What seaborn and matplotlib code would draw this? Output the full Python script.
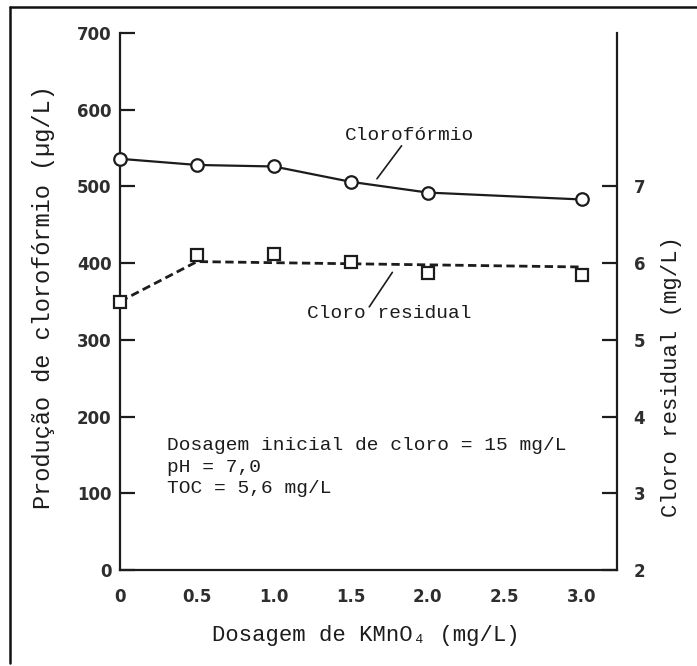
import matplotlib
matplotlib.use("Agg")
import matplotlib.pyplot as plt
from matplotlib.lines import Line2D
import seaborn as sns
import pandas as pd

# ---------------- data ----------------
kmno4_dose = [0.0, 0.5, 1.0, 1.5, 2.0, 3.0]
cloroformio = [536, 528, 526, 506, 492, 483]          # µg/L (left axis)
cloro_residual = [5.50, 6.10, 6.12, 6.01, 5.87, 5.85]  # mg/L (right axis)
trend_x = [0.0, 0.5, 3.0]
trend_residual = [5.50, 6.02, 5.95]                    # dashed trend (right axis)

x_ticks = [0.0, 0.5, 1.0, 1.5, 2.0, 2.5, 3.0]
x_tick_labels = ["0", "0.5", "1.0", "1.5", "2.0", "2.5", "3.0"]
left_ticks = [0, 100, 200, 300, 400, 500, 600, 700]
right_ticks = [2, 3, 4, 5, 6, 7]

xlabel = "Dosagem de KMnO\u2084 (mg/L)"
ylabel_left = "Produção de clorofórmio (µg/L)"
ylabel_right = "Cloro residual (mg/L)"
note_lines = ["Dosagem inicial de cloro = 15 mg/L", "pH = 7,0", "TOC = 5,6 mg/L"]

df_c = pd.DataFrame({"x": kmno4_dose, "y": cloroformio})
df_r = pd.DataFrame({"x": kmno4_dose, "y": cloro_residual})
df_t = pd.DataFrame({"x": trend_x, "y": trend_residual})

# ---------------- style ----------------
sns.set_style("white")
plt.rcParams["font.family"] = ["DejaVu Sans"]
mono = ["Liberation Mono", "DejaVu Sans Mono"]
ink = "#1c1c1c"
tick_color = "#2e2e2e"

W, H = 697, 666
fig = plt.figure(figsize=(W / 100, H / 100), dpi=100)
fig.patch.set_facecolor("white")

left_px, right_px, top_px, bottom_px = 120, 617, 33, 570
ax = fig.add_axes([left_px / W, (H - bottom_px) / H,
                   (right_px - left_px) / W, (bottom_px - top_px) / H])
ax2 = ax.twinx()

# Clorofórmio: solid line with open circles
sns.lineplot(data=df_c, x="x", y="y", ax=ax, color=ink, linewidth=1.6,
             marker="o", markersize=9, markerfacecolor="white",
             markeredgecolor=ink, markeredgewidth=1.6, clip_on=False, zorder=4)

# Cloro residual: dashed trend line + open squares
sns.lineplot(data=df_t, x="x", y="y", ax=ax2, color=ink, linewidth=2.0,
             linestyle=(0, (3.0, 1.6)), clip_on=False, zorder=3)
sns.lineplot(data=df_r, x="x", y="y", ax=ax2, color=ink, linestyle="",
             marker="s", markersize=8.5, markerfacecolor="white",
             markeredgecolor=ink, markeredgewidth=1.6, clip_on=False, zorder=4)

ax.set_xlim(0, 3.23)
ax.set_ylim(0, 700)
ax2.set_ylim(2, 9)

ax.set_xticks(x_ticks)
ax.set_xticklabels(x_tick_labels)
ax.set_yticks(left_ticks)
ax.set_yticklabels([str(v) for v in left_ticks])
ax2.set_yticks(right_ticks)
ax2.set_yticklabels([str(v) for v in right_ticks])

for a in (ax, ax2):
    for s in a.spines.values():
        s.set_visible(False)
    a.set_xlabel("")
    a.set_ylabel("")
ax.spines["left"].set_visible(True)
ax.spines["bottom"].set_visible(True)
ax2.spines["right"].set_visible(True)
for s in (ax.spines["left"], ax.spines["bottom"], ax2.spines["right"]):
    s.set_linewidth(1.6)
    s.set_color(ink)

ax.tick_params(axis="y", direction="in", length=11, width=1.6, color=ink,
               pad=6, labelsize=12, labelcolor=tick_color)
ax.tick_params(axis="x", direction="in", length=11, width=1.6, color=ink,
               pad=13, labelsize=12, labelcolor=tick_color)
ax2.tick_params(axis="y", direction="in", length=11, width=1.6, color=ink,
                pad=12, labelsize=12, labelcolor=tick_color)
for lab in ax.get_xticklabels() + ax.get_yticklabels() + ax2.get_yticklabels():
    lab.set_fontweight("bold")

# axis labels
fig.text(366 / W, 1 - 636 / H, xlabel, family=mono, fontsize=16, color=ink,
         ha="center", va="center")
fig.text(44 / W, 1 - 297 / H, ylabel_left, family=mono, fontsize=17, color=ink,
         ha="center", va="center", rotation=90)
fig.text(672 / W, 1 - 377 / H, ylabel_right, family=mono, fontsize=16, color=ink,
         ha="center", va="center", rotation=90)

# series annotations with leader lines
ax.text(1.88, 567, "Clorofórmio", family=mono, fontsize=14, color=ink,
        ha="center", va="center")
ax.plot([1.83, 1.67], [553, 510], color=ink, linewidth=1.2)
ax.text(1.75, 334, "Cloro residual", family=mono, fontsize=14, color=ink,
        ha="center", va="center")
ax.plot([1.77, 1.62], [388, 343], color=ink, linewidth=1.2)

# conditions block
ax.text(0.305, 134, "\n".join(note_lines), family=mono, fontsize=14,
        color=ink, ha="left", va="center", linespacing=1.35)

# outer frame of the scanned figure
fig.add_artist(Line2D([10 / W, 10 / W], [1 - 663 / H, 1 - 7 / H],
                      transform=fig.transFigure, color="#111", linewidth=1.8))
fig.add_artist(Line2D([10 / W, 1.0], [1 - 7 / H, 1 - 7 / H],
                      transform=fig.transFigure, color="#111", linewidth=1.8))

fig.savefig("out.png", dpi=100, facecolor="white")
